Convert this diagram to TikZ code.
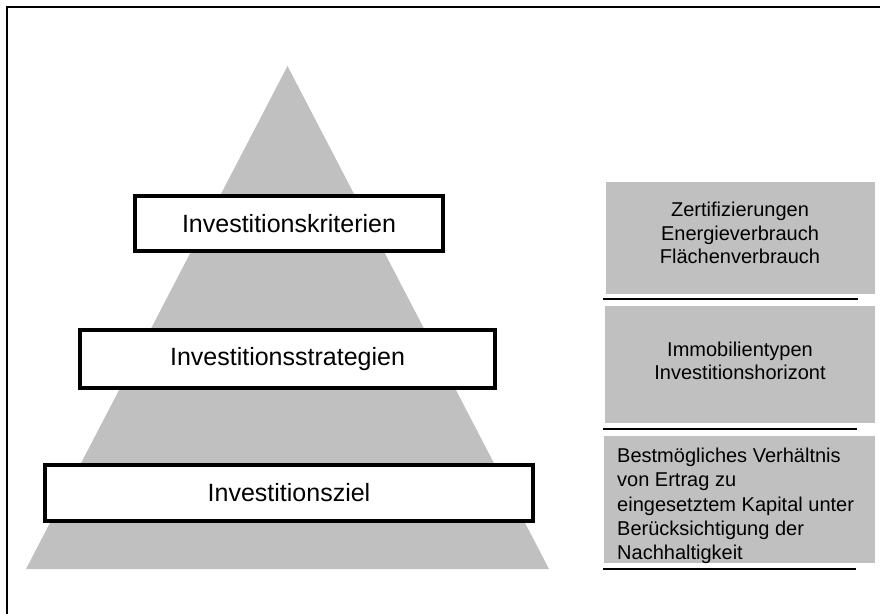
\documentclass[tikz,border=0pt]{standalone}
\usepackage{fontspec}
\setmainfont{Liberation Sans}
\definecolor{silbergrau}{RGB}{192,192,192}
\begin{document}
\begin{tikzpicture}[x=1pt,y=-1pt,
  stufe/.style={draw,line width=4pt,fill=white,inner sep=0pt,font=\fontsize{25}{30}\selectfont},
  feld/.style={fill=silbergrau,inner sep=0pt},
  feldtext/.style={inner sep=0pt,font=\fontsize{20}{23.5}\selectfont}]
\useasboundingbox (0,0) rectangle (880,613);
\draw[line width=1.5pt] (7,616) -- (7,7) -- (883,7);
% Pyramide
\fill[silbergrau] (26,569) -- (287.5,66) -- (549,569) -- cycle;
\node[stufe,minimum width=308pt,minimum height=55pt] (kriterien) at (289,223.5) {Investitionskriterien};
\node[stufe,minimum width=415pt,minimum height=58pt] (strategien) at (287.5,359) {Investitionsstrategien};
\node[stufe,minimum width=488pt,minimum height=56pt] (ziel) at (289,493) {Investitionsziel};
% Erlaeuterungen rechts
\node[feld,minimum width=269pt,minimum height=112pt] (zertbox) at (740.5,238) {};
\node[feldtext,align=center] (zerttext) at (740,233) {Zertifizierungen\\Energieverbrauch\\Flächenverbrauch};
\node[feld,minimum width=270pt,minimum height=117pt] (typbox) at (740,364.5) {};
\node[feldtext,align=center] (typtext) at (740,361) {Immobilientypen\\Investitionshorizont};
\node[feld,minimum width=271pt,minimum height=127pt] (zielbox) at (739.5,499.5) {};
\node[feldtext,align=left,anchor=north west,font=\fontsize{20}{24.2}\selectfont] (zieltext) at (617,448) {Bestmögliches Verhältnis\\von Ertrag zu\\eingesetztem Kapital unter\\Berücksichtigung der\\Nachhaltigkeit};
\draw[line width=2pt] (603,299) -- (858,299);
\draw[line width=2pt] (603,429) -- (857,429);
\draw[line width=2pt] (603,569) -- (856,569);
\end{tikzpicture}
\end{document}
